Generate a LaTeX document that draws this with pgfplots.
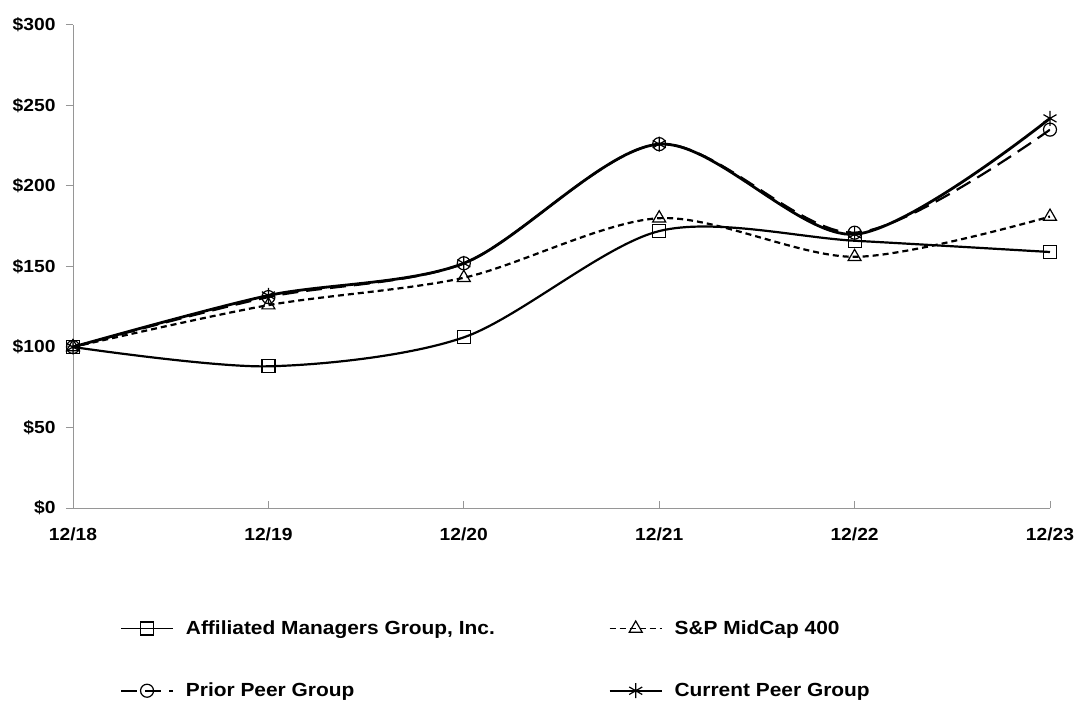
\documentclass[border=0pt]{standalone}
\usepackage{fontspec}
\setmainfont{Liberation Sans}[FakeStretch=1.1]
\usepackage{pgfplots}
\pgfplotsset{compat=1.18}
\definecolor{axgray}{RGB}{150,150,150}
\begin{document}
\begin{tikzpicture}
\useasboundingbox (0,0) rectangle (1076bp,711bp);
\begin{axis}[
  scale only axis, width=977bp, height=483bp,
  at={(73bp,203bp)}, anchor=south west,
  xmin=0, xmax=5, ymin=0, ymax=300,
  axis lines=left, axis line style={-, draw=axgray, line width=1bp},
  xtick={0,1,2,3,4,5},
  xticklabels={12/18,12/19,12/20,12/21,12/22,12/23},
  ytick={0,50,100,150,200,250,300},
  yticklabels={\$0,\$50,\$100,\$150,\$200,\$250,\$300},
  tick align=outside, major tick length=7bp,
  tick style={draw=axgray, line width=1bp},
  xtick style={yshift=7bp},
  ticklabel style={font=\fontsize{17.5bp}{20bp}\selectfont\bfseries},
  x tick label style={yshift=-9bp},
  y tick label style={xshift=-7bp},
  legend style={at={(axis description cs:0.045,-0.225)}, anchor=north west,
    draw=none, fill=none, legend columns=2,
    font=\fontsize{19bp}{22bp}\selectfont\bfseries,
    /tikz/every even column/.append style={column sep=112bp},
    /tikz/every odd column/.append style={column sep=10bp},
    row sep=43bp},
  legend cell align=left,
  legend image code/.code={\draw[mark repeat=2,mark phase=2,#1,line width=1.8bp] plot coordinates {(0bp,0bp) (26bp,0bp) (52bp,0bp)};},
]
\addplot[black, line width=2.2bp, smooth, mark=square, mark size=6.5bp, mark options={solid, line width=1.2bp}]
  coordinates {(0,100) (1,88) (2,106) (3,172) (4,166) (5,159)};
\addlegendentry{Affiliated Managers Group, Inc.}
\addplot[black, line width=2.2bp, smooth, dash pattern=on 6bp off 4bp, mark=triangle, mark size=7.5bp, mark options={solid, line width=1.2bp}]
  coordinates {(0,100) (1,126) (2,143) (3,180) (4,156) (5,181)};
\addlegendentry{S\&P MidCap 400}
\addplot[black, line width=2.2bp, smooth, dash pattern=on 16bp off 8bp, mark=o, mark size=6.5bp, mark options={solid, line width=1.2bp}]
  coordinates {(0,100) (1,131) (2,152) (3,226) (4,171) (5,235)};
\addlegendentry{Prior Peer Group}
\addplot[black, line width=2.8bp, smooth, mark=asterisk, mark size=7.5bp, mark options={solid, line width=1.2bp}]
  coordinates {(0,100) (1,132) (2,152) (3,226) (4,170) (5,242)};
\addlegendentry{Current Peer Group}
\end{axis}
\end{tikzpicture}
\end{document}
